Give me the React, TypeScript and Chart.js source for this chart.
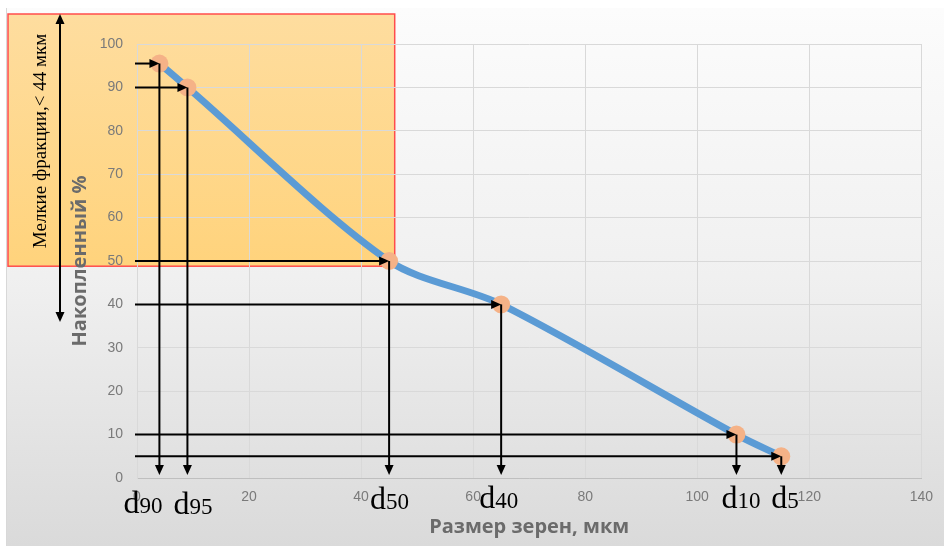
import React, { useEffect, useRef } from "react";
import { Chart, registerables } from "chart.js";

Chart.register(...registerables);

// ---- data ----
const grainSize = [4, 9, 45, 65, 107, 115];
const cumulativePct = [95.5, 90, 50, 40, 10, 5];
const markLabels = ["d90", "d95", "d50", "d40", "d10", "d5"];
const xTitle = "Размер зерен, мкм";
const yTitle = "Накопленный %";
const fineNote = "Мелкие фракции,< 44 мкм";
const X_MIN = 0;
const X_MAX = 140;
const X_STEP = 20;
const Y_MIN = 0;
const Y_MAX = 100;
const Y_STEP = 10;
const fineBoxMaxSize = 46;
const fineBoxMinPct = 48.8;

// ---- annotation layout (pixels) ----
const labelShift = [-36, -14, -19, -22, -15, -10];
const labelDrop = [35, 36, 31, 30, 30, 30];

function arrowTo(ctx: CanvasRenderingContext2D, x1: number, y1: number, x2: number, y2: number) {
  const ang = Math.atan2(y2 - y1, x2 - x1);
  const L = 10;
  const W = 4.5;
  const c = Math.cos(ang);
  const s = Math.sin(ang);
  ctx.beginPath();
  ctx.moveTo(x1, y1);
  ctx.lineTo(x2 - L * 0.7 * c, y2 - L * 0.7 * s);
  ctx.stroke();
  ctx.beginPath();
  ctx.moveTo(x2, y2);
  ctx.lineTo(x2 - L * c + W * s, y2 - L * s - W * c);
  ctx.lineTo(x2 - L * c - W * s, y2 - L * s + W * c);
  ctx.closePath();
  ctx.fill();
}

const decorPlugin = {
  id: "decor",
  beforeDraw(chart: any) {
    const ctx: CanvasRenderingContext2D = chart.ctx;
    const w = chart.width;
    const h = chart.height;
    const xs = chart.scales.x;
    const ys = chart.scales.y;
    ctx.save();
    ctx.fillStyle = "#ffffff";
    ctx.fillRect(0, 0, w, h);
    const g = ctx.createLinearGradient(0, 8, 0, h);
    g.addColorStop(0, "#fcfcfc");
    g.addColorStop(0.5, "#f0f0f0");
    g.addColorStop(1, "#dadada");
    ctx.fillStyle = g;
    ctx.fillRect(7, 8, w - 7, h - 8);
    ctx.fillStyle = "#d8d8d8";
    ctx.fillRect(6, 8, 1, h - 8);

    // orange "fine fraction" box
    const bx = 8;
    const by = 14;
    const bw = xs.getPixelForValue(fineBoxMaxSize) - bx;
    const bh = ys.getPixelForValue(fineBoxMinPct) - by;
    const og = ctx.createLinearGradient(0, by, 0, by + bh);
    og.addColorStop(0, "#fedd9f");
    og.addColorStop(1, "#ffd37c");
    ctx.fillStyle = og;
    ctx.fillRect(bx, by, bw, bh);
    ctx.strokeStyle = "#ff4c4c";
    ctx.lineWidth = 1.5;
    ctx.strokeRect(bx, by, bw, bh);
    ctx.restore();
  },
  afterDraw(chart: any) {
    const ctx: CanvasRenderingContext2D = chart.ctx;
    const xs = chart.scales.x;
    const ys = chart.scales.y;
    const area = chart.chartArea;
    ctx.save();
    ctx.strokeStyle = "#000000";
    ctx.fillStyle = "#000000";
    ctx.lineWidth = 2;
    ctx.lineCap = "butt";
    for (let i = 0; i < grainSize.length; i++) {
      const px = xs.getPixelForValue(grainSize[i]);
      const py = ys.getPixelForValue(cumulativePct[i]);
      arrowTo(ctx, area.left - 2, py, px, py);
      arrowTo(ctx, px, py, px, area.bottom - 3);
    }
    // double arrow on the left
    arrowTo(ctx, 60, 180, 60, 14);
    arrowTo(ctx, 60, 170, 60, 322);

    // d-labels
    ctx.textBaseline = "alphabetic";
    ctx.textAlign = "left";
    for (let i = 0; i < markLabels.length; i++) {
      const px = xs.getPixelForValue(grainSize[i]) + labelShift[i];
      const py = area.bottom + labelDrop[i];
      const head = markLabels[i].slice(0, 1);
      const tail = markLabels[i].slice(1);
      ctx.font = '32px "Liberation Serif"';
      ctx.fillText(head, px, py);
      const hw = ctx.measureText(head).width;
      ctx.font = '23px "Liberation Serif"';
      ctx.fillText(tail, px + hw, py);
    }

    // rotated note
    ctx.translate(41, 141);
    ctx.rotate(-Math.PI / 2);
    ctx.textAlign = "center";
    ctx.textBaseline = "middle";
    ctx.font = '19px "Liberation Serif"';
    ctx.fillText(fineNote, 0, 0);
    ctx.restore();
  },
};

export default function App() {
  const ref = useRef<HTMLCanvasElement | null>(null);
  useEffect(() => {
    if (!ref.current) return;
    const tickFont = { family: '"Liberation Sans", Arial, sans-serif', size: 14 };
    const titleFont = { family: '"Open Sans", "Liberation Sans", sans-serif', size: 20, weight: "bold" as const };
    const chart = new Chart(ref.current, {
      type: "scatter",
      data: {
        datasets: [
          {
            data: grainSize.map((x, i) => ({ x, y: cumulativePct[i] })),
            showLine: true,
            borderColor: "#5b9bd5",
            borderWidth: 7,
            tension: 0.3,
            pointRadius: 9,
            pointBackgroundColor: "#f5b287",
            pointBorderWidth: 0,
            pointHoverRadius: 9,
            clip: false as any,
          },
        ],
      },
      options: {
        animation: false,
        responsive: true,
        maintainAspectRatio: false,
        layout: { padding: { top: 44, right: 19, left: 0, bottom: 0 } },
        plugins: { legend: { display: false }, tooltip: { enabled: false } },
        scales: {
          x: {
            type: "linear",
            min: X_MIN,
            max: X_MAX,
            ticks: { stepSize: X_STEP, color: "#7a7a7a", font: tickFont, padding: 11 },
            grid: { color: "#d9d9d9", drawTicks: false },
            border: { color: "#bfbfbf" },
            title: { display: true, text: xTitle, color: "#6b6b6b", font: titleFont, padding: { top: 0, bottom: 7 } },
            afterFit: (s: any) => {
              s.height = 68;
            },
          },
          y: {
            type: "linear",
            min: Y_MIN,
            max: Y_MAX,
            ticks: { stepSize: Y_STEP, color: "#7a7a7a", font: tickFont, padding: 14 },
            grid: { color: "#d9d9d9", drawTicks: false },
            border: { color: "#d9d9d9" },
            title: { display: true, text: yTitle, color: "#6b6b6b", font: titleFont, padding: { top: 68, bottom: 0 } },
            afterFit: (s: any) => {
              s.width = 137;
            },
          },
        },
      },
      plugins: [decorPlugin],
    });
    return () => chart.destroy();
  }, []);
  return (
    <div style={{ position: "fixed", left: 0, top: 0, width: 944, height: 546 }}>
      <canvas ref={ref} />
    </div>
  );
}
